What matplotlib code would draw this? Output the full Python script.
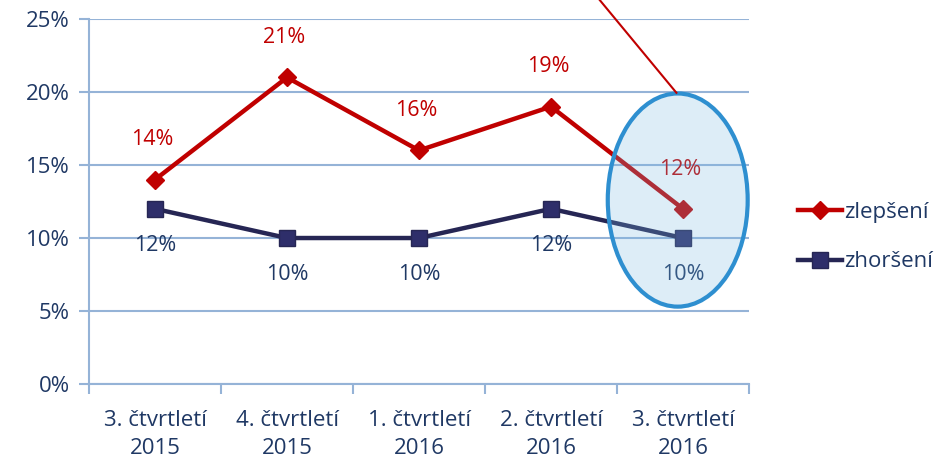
import matplotlib.pyplot as plt
from matplotlib.patches import Ellipse

plt.rcParams["font.family"] = ["Open Sans", "DejaVu Sans"]

kategorie = ["3. čtvrtletí\n2015", "4. čtvrtletí\n2015", "1. čtvrtletí\n2016",
             "2. čtvrtletí\n2016", "3. čtvrtletí\n2016"]
zlepseni = [14, 21, 16, 19, 12]
zhorseni = [12, 10, 10, 12, 10]

red = "#C00000"
navy = "#262654"
txt = "#1F3864"
grid = "#95B3D7"

fig = plt.figure(figsize=(9.51, 4.62), dpi=100)
ax = fig.add_axes([0.0936, 0.1688, 0.694, 0.790])

x = range(len(kategorie))
ax.plot(x, zlepseni, color=red, lw=3.2, marker="D", ms=9, label="zlepšení", zorder=3)
ax.plot(x, zhorseni, color=navy, lw=3.2, marker="s", ms=11, mfc="#2E2E6A",
        label="zhoršení", zorder=3)

for i, v in enumerate(zlepseni):
    ax.annotate(f"{v}%", (i, v), xytext=(-2, 21), textcoords="offset points",
                ha="center", va="bottom", color=red, fontsize=15.5, zorder=4)
for i, v in enumerate(zhorseni):
    ax.annotate(f"{v}%", (i, v), xytext=(0, -19), textcoords="offset points",
                ha="center", va="top", color=txt, fontsize=15.5, zorder=4)

# zvýraznění posledního čtvrtletí
ell = Ellipse((3.96, 12.6), 1.06, 14.6, facecolor=(0.47, 0.73, 0.89, 0.25),
              edgecolor="#2E8FD0", lw=3, zorder=5, clip_on=False)
ax.add_patch(ell)
ax.plot([3.36, 3.95], [26.4, 19.95], color=red, lw=1.5, clip_on=False, zorder=5)

ax.set_xlim(-0.5, 4.5)
ax.set_ylim(0, 25)
ax.set_yticks(range(0, 26, 5))
ax.set_yticklabels([f"{t}%" for t in range(0, 26, 5)])
ax.set_xticks(list(x))
ax.set_xticklabels(kategorie, linespacing=1.4)
ax.set_xticks([i - 0.5 for i in range(len(kategorie) + 1)], minor=True)
ax.tick_params(axis="x", which="major", length=0, pad=19, labelsize=16, labelcolor=txt)
ax.tick_params(axis="x", which="minor", length=7, width=1.5, color=grid)
ax.tick_params(axis="y", length=7, width=1.5, color=grid, labelsize=16,
               labelcolor=txt, pad=7)
ax.grid(axis="y", color=grid, lw=1.5)
ax.set_axisbelow(True)
for s in ["top", "right"]:
    ax.spines[s].set_visible(False)
for s in ["left", "bottom"]:
    ax.spines[s].set_color(grid)
    ax.spines[s].set_linewidth(1.5)

leg = fig.legend(loc="center left", bbox_to_anchor=(0.818, 0.487), frameon=False,
                 fontsize=16, handlelength=2.0, handletextpad=0.1, labelspacing=1.3)
for t in leg.get_texts():
    t.set_color(txt)

fig.savefig("out.png", dpi=100)
